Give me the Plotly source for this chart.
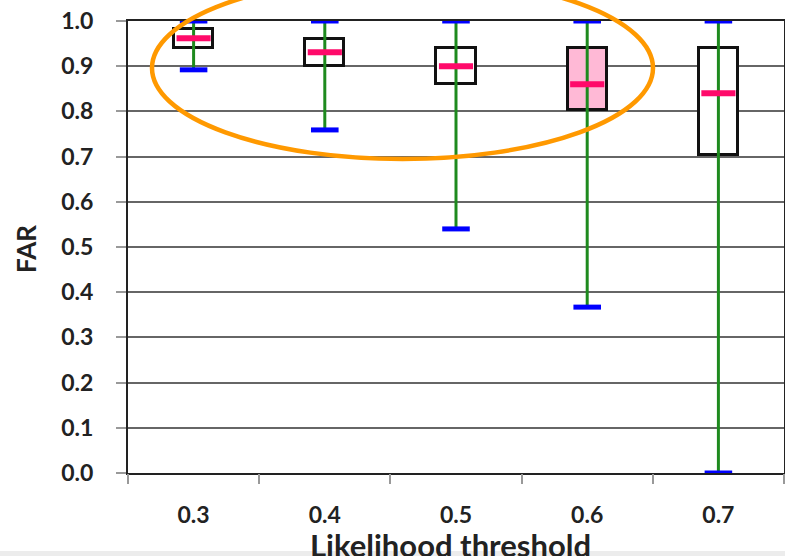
import plotly.graph_objects as go

categories = ["0.3", "0.4", "0.5", "0.6", "0.7"]
mins = [0.892, 0.759, 0.540, 0.367, 0.0]
q1s = [0.940, 0.900, 0.860, 0.803, 0.703]
medians = [0.962, 0.931, 0.900, 0.860, 0.840]
q3s = [0.982, 0.960, 0.940, 0.940, 0.940]
maxs = [1.0, 1.0, 1.0, 1.0, 1.0]
box_fills = ["white", "white", "white", "#ffb9d6", "white"]

pos = list(range(len(categories)))
BOX_W = 0.30
CAP_HW = 0.105
MED_HW = 0.13

FONT = "Lato"
W, H = 785, 556
L, R, T, B = 128, 1, 21, 83
PW, PH = W - L - R, H - T - B


def px(x):
    return (x - L) / PW


def py(y):
    return (H - B - y) / PH


fig = go.Figure()

# whiskers
wx, wy = [], []
for i, lo, hi in zip(pos, mins, maxs):
    wx += [i, i, None]
    wy += [lo, hi, None]
fig.add_trace(go.Scatter(x=wx, y=wy, mode="lines",
                         line=dict(color="#1e8a1e", width=3),
                         hoverinfo="skip", showlegend=False, cliponaxis=False))

# boxes
fig.add_trace(go.Bar(x=pos, y=[b - a for a, b in zip(q1s, q3s)], base=q1s,
                     width=BOX_W,
                     marker=dict(color=box_fills, line=dict(color="#111111", width=3)),
                     showlegend=False))

# medians
mx, my = [], []
for i, m in zip(pos, medians):
    mx += [i - MED_HW, i + MED_HW, None]
    my += [m, m, None]
fig.add_trace(go.Scatter(x=mx, y=my, mode="lines",
                         line=dict(color="#ff0a6a", width=6),
                         showlegend=False, hoverinfo="skip"))

# caps
cx, cy = [], []
for i, lo, hi in zip(pos, mins, maxs):
    cx += [i - CAP_HW, i + CAP_HW, None, i - CAP_HW, i + CAP_HW, None]
    cy += [lo, lo, None, hi, hi, None]
fig.add_trace(go.Scatter(x=cx, y=cy, mode="lines",
                         line=dict(color="#0000ff", width=5),
                         showlegend=False, hoverinfo="skip", cliponaxis=False))

# orange highlight ellipse (paper coords)
fig.add_shape(type="circle", xref="paper", yref="paper",
              x0=px(152), x1=px(653), y0=py(159), y1=py(-23),
              line=dict(color="#ff9900", width=4.5), layer="above")

# faint bottom shadow band of the screenshot
fig.add_shape(type="rect", xref="paper", yref="paper",
              x0=px(0), x1=px(W), y0=py(H), y1=py(551),
              fillcolor="#ececec", line=dict(width=0), layer="below")

# axis titles
fig.add_annotation(text="<b>Likelihood threshold</b>", xref="paper", yref="paper",
                   x=px(450), y=py(524), xanchor="center", yanchor="top",
                   showarrow=False, font=dict(family=FONT, size=31, color="#222222"))
fig.add_annotation(text="<b>FAR</b>", xref="paper", yref="paper",
                   x=px(26), y=py(249), xanchor="center", yanchor="middle",
                   textangle=-90, showarrow=False,
                   font=dict(family=FONT, size=26, color="#222222"))

fig.update_layout(
    width=W, height=H,
    margin=dict(l=L, r=R, t=T, b=B),
    plot_bgcolor="white", paper_bgcolor="white",
    bargap=0,
    font=dict(family=FONT, color="#222222"),
    xaxis=dict(
        range=[-0.5, 4.5], tickmode="array", tickvals=pos, ticktext=categories,
        ticks="", showgrid=False, zeroline=False,
        showline=True, linecolor="#222222", linewidth=2, mirror=True,
        tickfont=dict(family=FONT, size=23, color="#222222", weight="bold"),
        ticklabelstandoff=20, layer="below traces",
        automargin=False,
    ),
    xaxis2=dict(
        range=[-0.5, 4.5], overlaying="x", side="bottom", anchor="y",
        tickmode="array", tickvals=[-0.5, 0.5, 1.5, 2.5, 3.5, 4.5],
        showticklabels=False, ticks="outside", ticklen=10, tickwidth=2, tickcolor="#999999",
        showgrid=False, zeroline=False, showline=False,
    ),
    yaxis=dict(
        range=[0, 1], dtick=0.1, tick0=0, tickformat=".1f",
        showgrid=True, gridcolor="#666666", gridwidth=2,
        zeroline=False, showline=True, linecolor="#222222", linewidth=2, mirror=True,
        ticks="outside", ticklen=10, tickwidth=2, tickcolor="#999999",
        tickfont=dict(family=FONT, size=23, color="#222222", weight="bold"),
        ticklabelstandoff=18,
        layer="below traces",
        automargin=False,
    ),
)
# invisible trace to activate xaxis2
fig.add_trace(go.Scatter(x=[0], y=[0], xaxis="x2", mode="markers",
                         marker=dict(opacity=0), showlegend=False, hoverinfo="skip"))

fig.write_html("out.html", config={"displayModeBar": False},
               post_script="document.body.style.margin='0';document.body.style.overflow='hidden';")
